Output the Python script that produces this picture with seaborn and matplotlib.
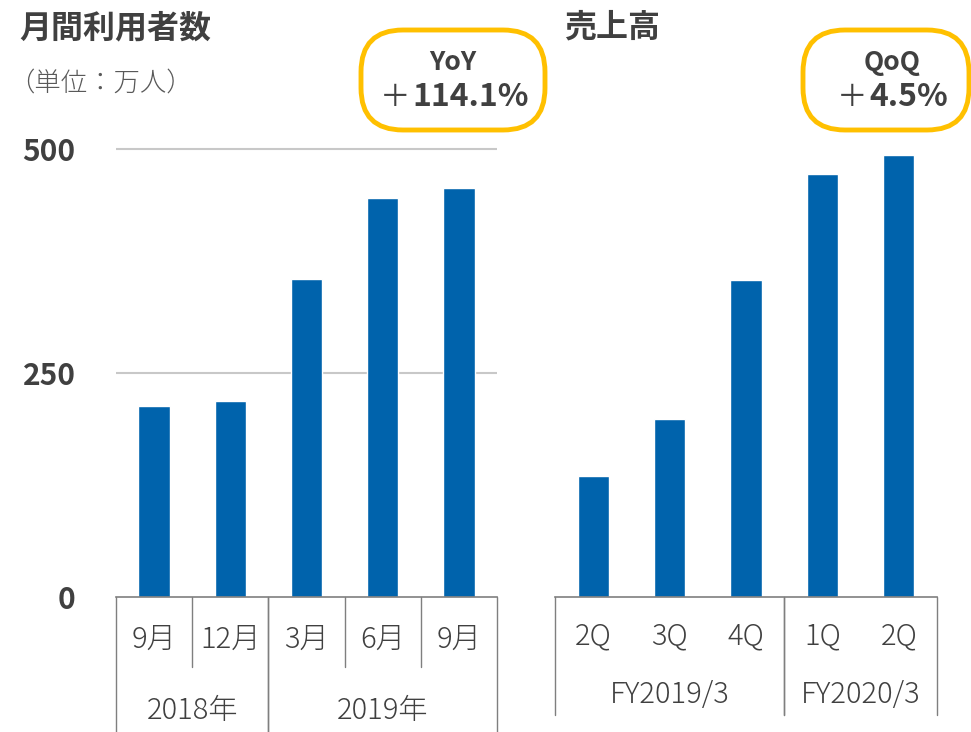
import pandas as pd
import seaborn as sns
import matplotlib.pyplot as plt
from matplotlib.patches import FancyBboxPatch

# monthly users (10k people)
user_periods = ["2018-09", "2018-12", "2019-03", "2019-06", "2019-09"]
users = [213, 219, 355, 445, 456]
month_labels = ["9月", "12月", "3月", "6月", "9月"]
year_labels = ["2018年", "2019年"]
year_spans = [(0, 1), (2, 4)]

# sales (same scale, no axis shown)
sales_periods = ["FY19-2Q", "FY19-3Q", "FY19-4Q", "FY20-1Q", "FY20-2Q"]
sales = [135, 199, 354, 472, 493]
quarter_labels = ["2Q", "3Q", "4Q", "1Q", "2Q"]
fy_labels = ["FY2019/3", "FY2020/3"]
fy_spans = [(0, 2), (3, 4)]

yticks = [0, 250, 500]

BLUE = "#0063AC"
TXT = "#404040"
LINE = "#7f7f7f"
W, H = 971, 732

sns.set_theme(style="white")
plt.rcParams["font.family"] = ["Noto Sans CJK JP", "DejaVu Sans"]

fig = plt.figure(figsize=(W / 100, H / 100), dpi=100)


def px(x, y):
    return x / W, 1 - y / H


def yfrac(y):
    # pixel row -> axes fraction (axes spans rows 131..597)
    return (597 - y) / 466


ax1 = fig.add_axes([116 / W, (H - 597) / H, 381 / W, 466 / H])
ax2 = fig.add_axes([555 / W, (H - 597) / H, 382 / W, 466 / H])

df1 = pd.DataFrame({"period": user_periods, "value": users})
df2 = pd.DataFrame({"period": sales_periods, "value": sales})

for ax, df in [(ax1, df1), (ax2, df2)]:
    sns.barplot(data=df, x="period", y="value", color=BLUE, saturation=1,
                width=0.41, ax=ax, zorder=3)
    ax.set_xlim(-0.5, 4.5)
    ax.set_ylim(0, 520)
    ax.set_xlabel("")
    ax.set_ylabel("")
    ax.set_xticklabels([])
    ax.tick_params(axis="x", length=0)
    for s in ["top", "right", "left"]:
        ax.spines[s].set_visible(False)
    ax.spines["bottom"].set_color(LINE)
    ax.spines["bottom"].set_linewidth(1.2)
    ax.spines["bottom"].set_zorder(4)

# left axis: grid + bold ticks
for v in yticks[1:]:
    ax1.axhline(v, color="#c8c8c8", lw=1.5, zorder=1)
ax1.set_yticks(yticks)
ax1.set_yticklabels([str(v) for v in yticks], fontsize=21.5, fontweight="bold", color=TXT)
ax1.tick_params(axis="y", length=0, pad=29)
for t in ax1.get_yticklabels():
    t.set_y(t.get_position()[1])
ax2.set_yticks([])

# category separators and labels
tr1 = ax1.get_xaxis_transform()
tr2 = ax2.get_xaxis_transform()
LAB = dict(ha="center", va="center", fontsize=21, color=TXT, fontweight="light")
for a, b in year_spans:
    for xb in (a - 0.5, b + 0.5):
        ax1.plot([xb, xb], [0, yfrac(732)], color=LINE, lw=1, transform=tr1, clip_on=False)
    for xb in range(a, b):
        ax1.plot([xb + 0.5, xb + 0.5], [0, yfrac(667)], color=LINE, lw=1, transform=tr1, clip_on=False)
for i, lab in enumerate(month_labels):
    ax1.text(i, yfrac(640), lab, transform=tr1, **LAB)
for (a, b), lab in zip(year_spans, year_labels):
    ax1.text((a + b) / 2, yfrac(711), lab, transform=tr1, **LAB)

for a, b in fy_spans:
    for xb in (a - 0.5, b + 0.5):
        ax2.plot([xb, xb], [0, yfrac(715)], color=LINE, lw=1, transform=tr2, clip_on=False)
for i, lab in enumerate(quarter_labels):
    ax2.text(i, yfrac(636), lab, transform=tr2, **LAB)
for (a, b), lab in zip(fy_spans, fy_labels):
    ax2.text((a + b) / 2, yfrac(695), lab, transform=tr2, **LAB)

# titles
fig.text(*px(19, 28), "月間利用者数", fontsize=23, fontweight="bold", color=TXT, va="center")
fig.text(*px(564, 28), "売上高", fontsize=23, fontweight="bold", color=TXT, va="center")
fig.text(*px(8, 83), "（単位：万人）", fontsize=19, color="#595959", va="center",
         fontweight="light")

# callout boxes
for x0, x1 in [(361, 545), (803, 969)]:
    box = FancyBboxPatch((x0 / 100, (H - 130) / 100), (x1 - x0) / 100, 1.0,
                         boxstyle="round,pad=0,rounding_size=0.42",
                         transform=fig.dpi_scale_trans, facecolor="white",
                         edgecolor="#FFC000", lw=3.5, zorder=5)
    fig.add_artist(box)

fig.text(*px(453, 62), "YoY", fontsize=19, fontweight="bold", color=TXT, ha="center", va="center", zorder=6)
fig.text(*px(410, 97), "＋", fontsize=22, color=TXT, ha="right", va="center", zorder=6)
fig.text(*px(412, 97), "114.1%", fontsize=23, fontweight="bold", color=TXT, ha="left", va="center", zorder=6)

fig.text(*px(892, 63), "QoQ", fontsize=19, fontweight="bold", color=TXT, ha="center", va="center", zorder=6)
fig.text(*px(867, 97), "＋", fontsize=22, color=TXT, ha="right", va="center", zorder=6)
fig.text(*px(869, 97), "4.5%", fontsize=23, fontweight="bold", color=TXT, ha="left", va="center", zorder=6)

fig.savefig("out.png", dpi=100)
